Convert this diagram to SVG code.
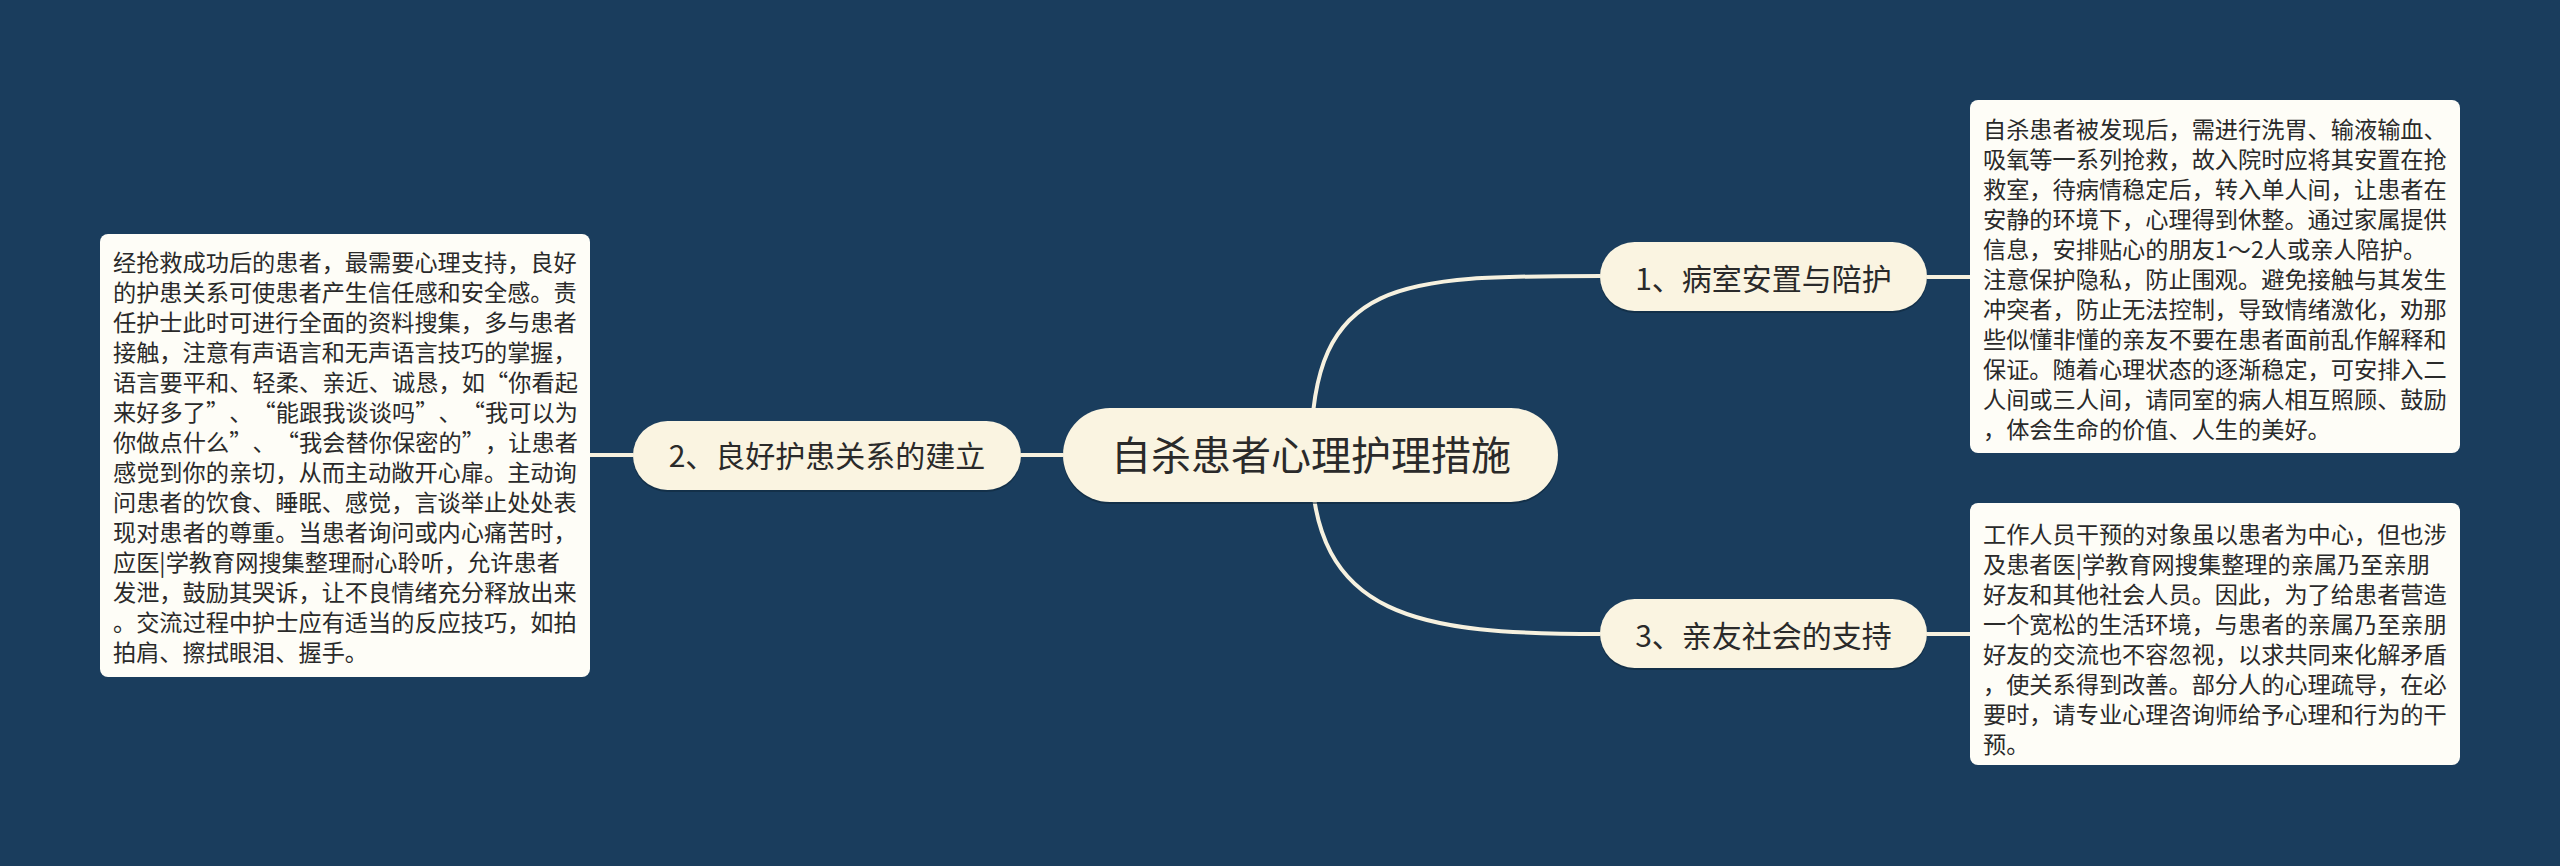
<svg xmlns="http://www.w3.org/2000/svg" width="2560" height="866" viewBox="0 0 2560 866">
<style>
.bg{fill:#1A3D5D}
.conn{fill:none;stroke:#F6F1DF;stroke-width:4;stroke-linecap:round}
.pill{fill:#FAF4E1}
.shadow{fill:#0E2639;opacity:0.55}
.box{fill:#FEFDF7}
.t{font-family:"Noto Sans CJK SC","Noto Sans",sans-serif;fill:#2A2A2A}
.root{font-size:40px}
.lvl1{font-size:30px}
.note{font-size:23.2px}
</style>
<rect class="bg" x="0" y="0" width="2560" height="866"/>
<g id="connectors">
<path class="conn" d="M1311 455 C1311 276 1400 276 1602 276"/>
<path class="conn" d="M1311 455 C1311 620 1420 634 1602 634"/>
<path class="conn" d="M590 455 L635 455"/>
<path class="conn" d="M1019 455 L1065 455"/>
<path class="conn" d="M1925 277 L1972 277"/>
<path class="conn" d="M1925 634 L1972 634"/>
</g>
<g id="root">
<rect class="shadow" x="1063" y="410" width="495" height="94" rx="47"/>
<rect class="pill" x="1063" y="408" width="495" height="94" rx="47"/>
<text class="t root" x="1311" y="470" text-anchor="middle">自杀患者心理护理措施</text>
</g>
<g id="node1">
<rect class="shadow" x="1600" y="244" width="327" height="69" rx="34.5"/>
<rect class="pill" x="1600" y="242" width="327" height="69" rx="34.5"/>
<text class="t lvl1" x="1763.5" y="290" text-anchor="middle">1、病室安置与陪护</text>
</g>
<g id="node2">
<rect class="shadow" x="633" y="423" width="388" height="69" rx="34.5"/>
<rect class="pill" x="633" y="421" width="388" height="69" rx="34.5"/>
<text class="t lvl1" x="827" y="467" text-anchor="middle">2、良好护患关系的建立</text>
</g>
<g id="node3">
<rect class="shadow" x="1600" y="601" width="327" height="69" rx="34.5"/>
<rect class="pill" x="1600" y="599" width="327" height="69" rx="34.5"/>
<text class="t lvl1" x="1763.5" y="647" text-anchor="middle">3、亲友社会的支持</text>
</g>
<g id="note1">
<rect class="box" x="1970" y="100" width="490" height="353" rx="8"/>
<text class="t note" x="1983" y="138">
<tspan x="1983" y="138">自杀患者被发现后，需进行洗胃、输液输血、</tspan>
<tspan x="1983" y="168">吸氧等一系列抢救，故入院时应将其安置在抢</tspan>
<tspan x="1983" y="198">救室，待病情稳定后，转入单人间，让患者在</tspan>
<tspan x="1983" y="228">安静的环境下，心理得到休整。通过家属提供</tspan>
<tspan x="1983" y="258">信息，安排贴心的朋友1～2人或亲人陪护。</tspan>
<tspan x="1983" y="288">注意保护隐私，防止围观。避免接触与其发生</tspan>
<tspan x="1983" y="318">冲突者，防止无法控制，导致情绪激化，劝那</tspan>
<tspan x="1983" y="348">些似懂非懂的亲友不要在患者面前乱作解释和</tspan>
<tspan x="1983" y="378">保证。随着心理状态的逐渐稳定，可安排入二</tspan>
<tspan x="1983" y="408">人间或三人间，请同室的病人相互照顾、鼓励</tspan>
<tspan x="1983" y="438">，体会生命的价值、人生的美好。</tspan>
</text>
</g>
<g id="note2">
<rect class="box" x="100" y="234" width="490" height="443" rx="8"/>
<text class="t note" x="113" y="271">
<tspan x="113" y="271">经抢救成功后的患者，最需要心理支持，良好</tspan>
<tspan x="113" y="301">的护患关系可使患者产生信任感和安全感。责</tspan>
<tspan x="113" y="331">任护士此时可进行全面的资料搜集，多与患者</tspan>
<tspan x="113" y="361">接触，注意有声语言和无声语言技巧的掌握，</tspan>
<tspan x="113 136.25 159.5 182.75 206 229.25 252.5 275.75 299 322.25 345.5 368.75 392 415.25 438.5 461.75 485 508.25 531.5 554.75" y="391">语言要平和、轻柔、亲近、诚恳，如“你看起</tspan>
<tspan x="113 136.25 159.5 182.75 206 229.25 252.5 275.75 299 322.25 345.5 368.75 392 415.25 438.5 461.75 485 508.25 531.5 554.75" y="421">来好多了”、“能跟我谈谈吗”、“我可以为</tspan>
<tspan x="113 136.25 159.5 182.75 206 229.25 252.5 275.75 299 322.25 345.5 368.75 392 415.25 438.5 461.75 485 508.25 531.5 554.75" y="451">你做点什么”、“我会替你保密的”，让患者</tspan>
<tspan x="113" y="481">感觉到你的亲切，从而主动敞开心扉。主动询</tspan>
<tspan x="113" y="511">问患者的饮食、睡眠、感觉，言谈举止处处表</tspan>
<tspan x="113" y="541">现对患者的尊重。当患者询问或内心痛苦时，</tspan>
<tspan x="113" y="571">应医|学教育网搜集整理耐心聆听，允许患者</tspan>
<tspan x="113" y="601">发泄，鼓励其哭诉，让不良情绪充分释放出来</tspan>
<tspan x="113" y="631">。交流过程中护士应有适当的反应技巧，如拍</tspan>
<tspan x="113" y="661">拍肩、擦拭眼泪、握手。</tspan>
</text>
</g>
<g id="note3">
<rect class="box" x="1970" y="503" width="490" height="262" rx="8"/>
<text class="t note" x="1983" y="543">
<tspan x="1983" y="543">工作人员干预的对象虽以患者为中心，但也涉</tspan>
<tspan x="1983" y="573">及患者医|学教育网搜集整理的亲属乃至亲朋</tspan>
<tspan x="1983" y="603">好友和其他社会人员。因此，为了给患者营造</tspan>
<tspan x="1983" y="633">一个宽松的生活环境，与患者的亲属乃至亲朋</tspan>
<tspan x="1983" y="663">好友的交流也不容忽视，以求共同来化解矛盾</tspan>
<tspan x="1983" y="693">，使关系得到改善。部分人的心理疏导，在必</tspan>
<tspan x="1983" y="723">要时，请专业心理咨询师给予心理和行为的干</tspan>
<tspan x="1983" y="753">预。</tspan>
</text>
</g>
</svg>
